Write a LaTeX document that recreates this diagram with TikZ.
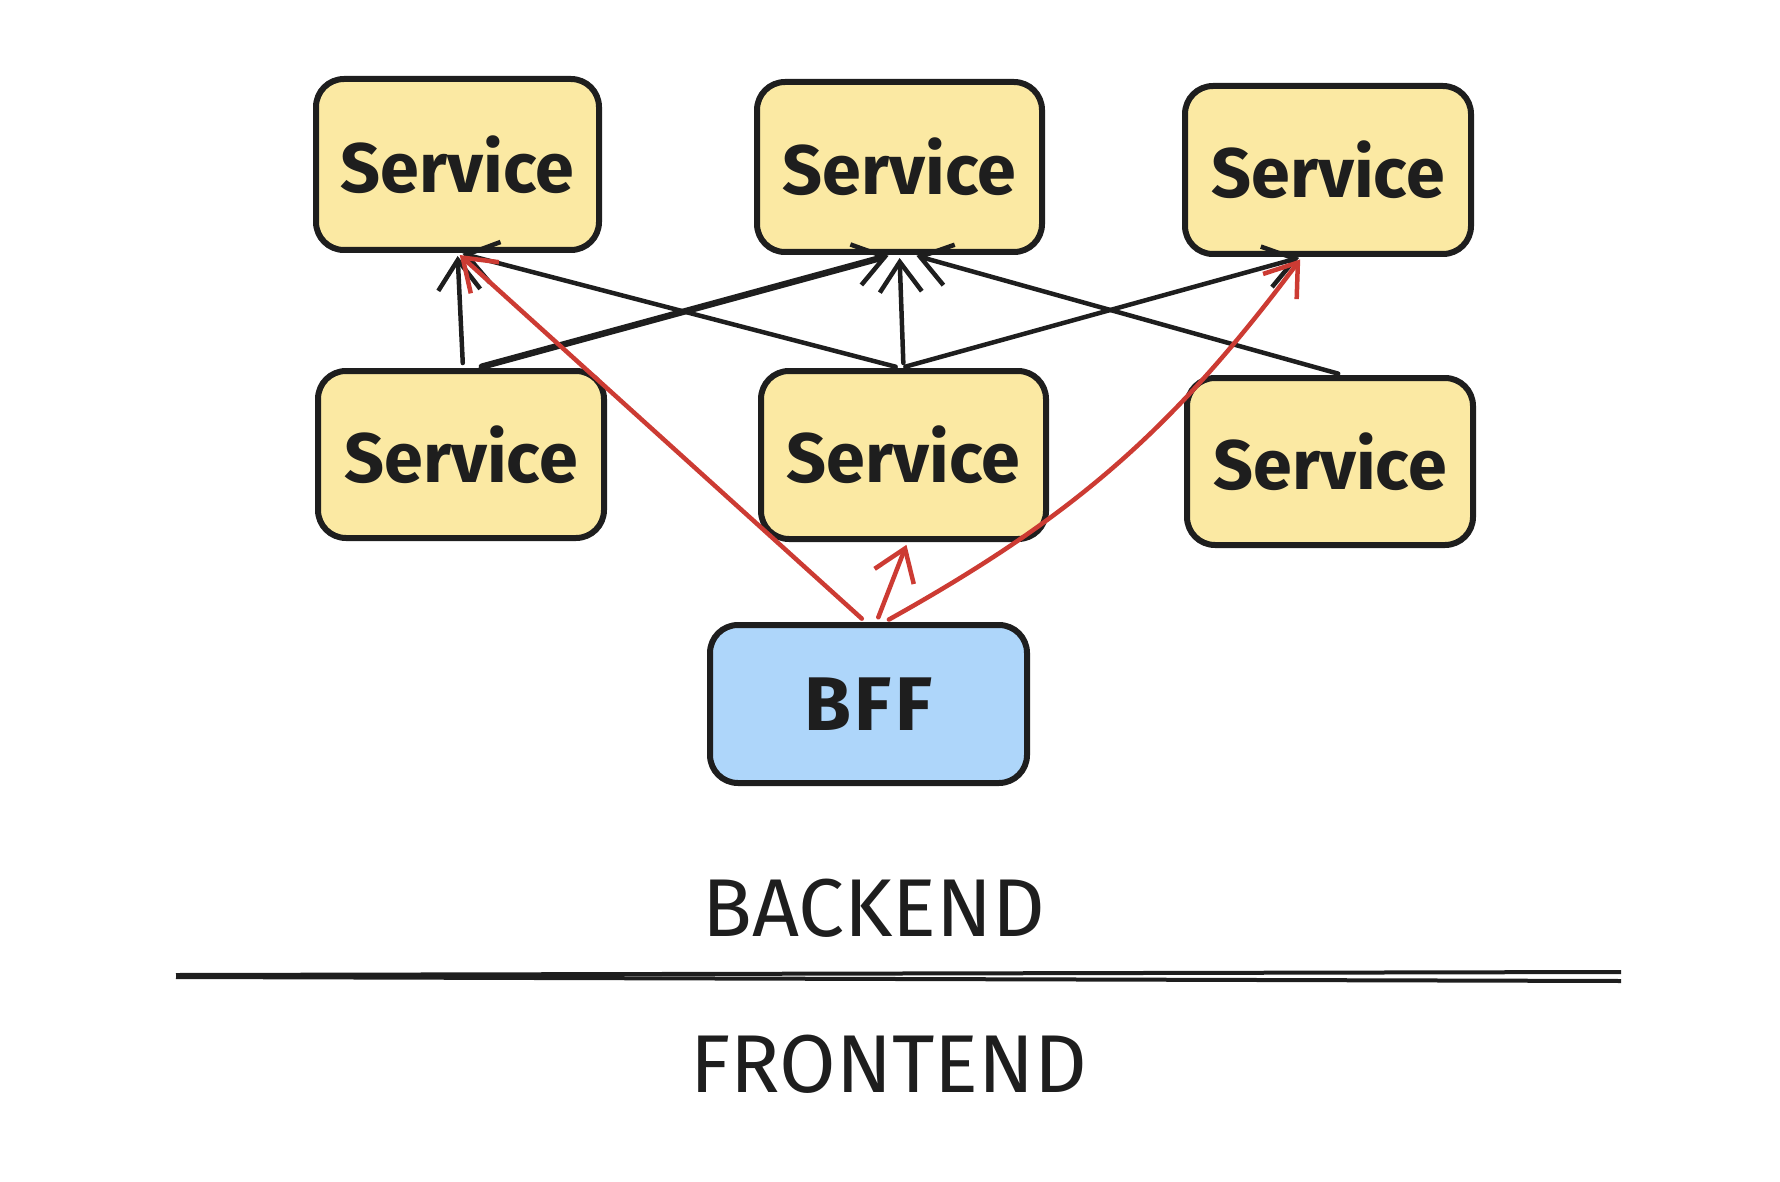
\documentclass[tikz,border=0pt]{standalone}
\usepackage{fontspec}
\setmainfont{Fira Sans}
\usetikzlibrary{arrows.meta}
\definecolor{ink}{HTML}{1E1E1E}
\definecolor{yel}{HTML}{FBE9A3}
\definecolor{blu}{HTML}{AED6FA}
\definecolor{rd}{HTML}{CC3B33}
\tikzset{
  box/.style={draw=ink, line width=6pt, rounded corners=28pt, inner sep=0pt,
    font=\fontsize{70}{74}\selectfont\bfseries, text=ink},
  svc/.style={box, fill=yel},
  arr/.style={draw=ink, line width=4.5pt, line cap=round,
    -{Straight Barb[length=30pt,width=42pt,line width=4.5pt]}, shorten >=3pt, shorten <=5pt},
  redarr/.style={arr, draw=rd},
  lbl/.style={font=\fontsize{82}{86}\selectfont, text=ink, inner sep=0pt},
}
\begin{document}
\begin{tikzpicture}[x=1pt,y=-1pt]
\useasboundingbox (0,0) rectangle (1780,1182);
\node[svc, minimum width=283pt, minimum height=171pt] (s1) at (457.5,164.5) {Service};
\node[svc, minimum width=285pt, minimum height=170pt] (s2) at (899.5,167) {Service};
\node[svc, minimum width=286pt, minimum height=168pt] (s3) at (1328,170) {Service};
\node[svc, minimum width=286pt, minimum height=167pt] (s4) at (461,454.5) {Service};
\node[svc, minimum width=285pt, minimum height=168pt] (s5) at (903.5,455) {Service};
\node[svc, minimum width=286pt, minimum height=167pt] (s6) at (1330,461.5) {Service};
\node[box, fill=blu, minimum width=317pt, minimum height=158pt, font=\fontsize{76}{80}\selectfont\bfseries] (bff) at (868.5,704) {\addfontfeature{LetterSpace=5}BFF};

\draw[arr] ([xshift=2pt]s4.north) -- (s1.south);
\draw[arr, line width=6.5pt] ([xshift=16pt]s4.north) -- ([xshift=-8pt]s2.south);
\draw[arr] ([xshift=-3pt]s5.north) -- ([xshift=2pt]s1.south);
\draw[arr] (s5.north) -- (s2.south);
\draw[arr] ([xshift=-3pt]s5.north) -- ([xshift=-26pt]s3.south);
\draw[arr] ([xshift=13pt]s6.north) -- ([xshift=14pt]s2.south);

\draw[redarr] ([xshift=-3pt]bff.north) -- (s1.south);
\draw[redarr] ([xshift=8pt]bff.north) -- ([xshift=4pt]s5.south);
\draw[redarr] ([xshift=16pt]bff.north) to[bend right=12] ([xshift=-26pt]s3.south);

\node[lbl] (backend) at (874,908) {BACKEND};
\coordinate (l1a) at (176,975);
\coordinate (l1b) at (1621,972);
\coordinate (l2a) at (176,977);
\coordinate (l2b) at (1621,981);
\draw[ink, line width=4pt] (l1a) -- (l1b);
\draw[ink, line width=4pt] (l2a) -- (l2b);
\node[lbl] (frontend) at (889,1064) {FRONTEND};
\end{tikzpicture}
\end{document}
